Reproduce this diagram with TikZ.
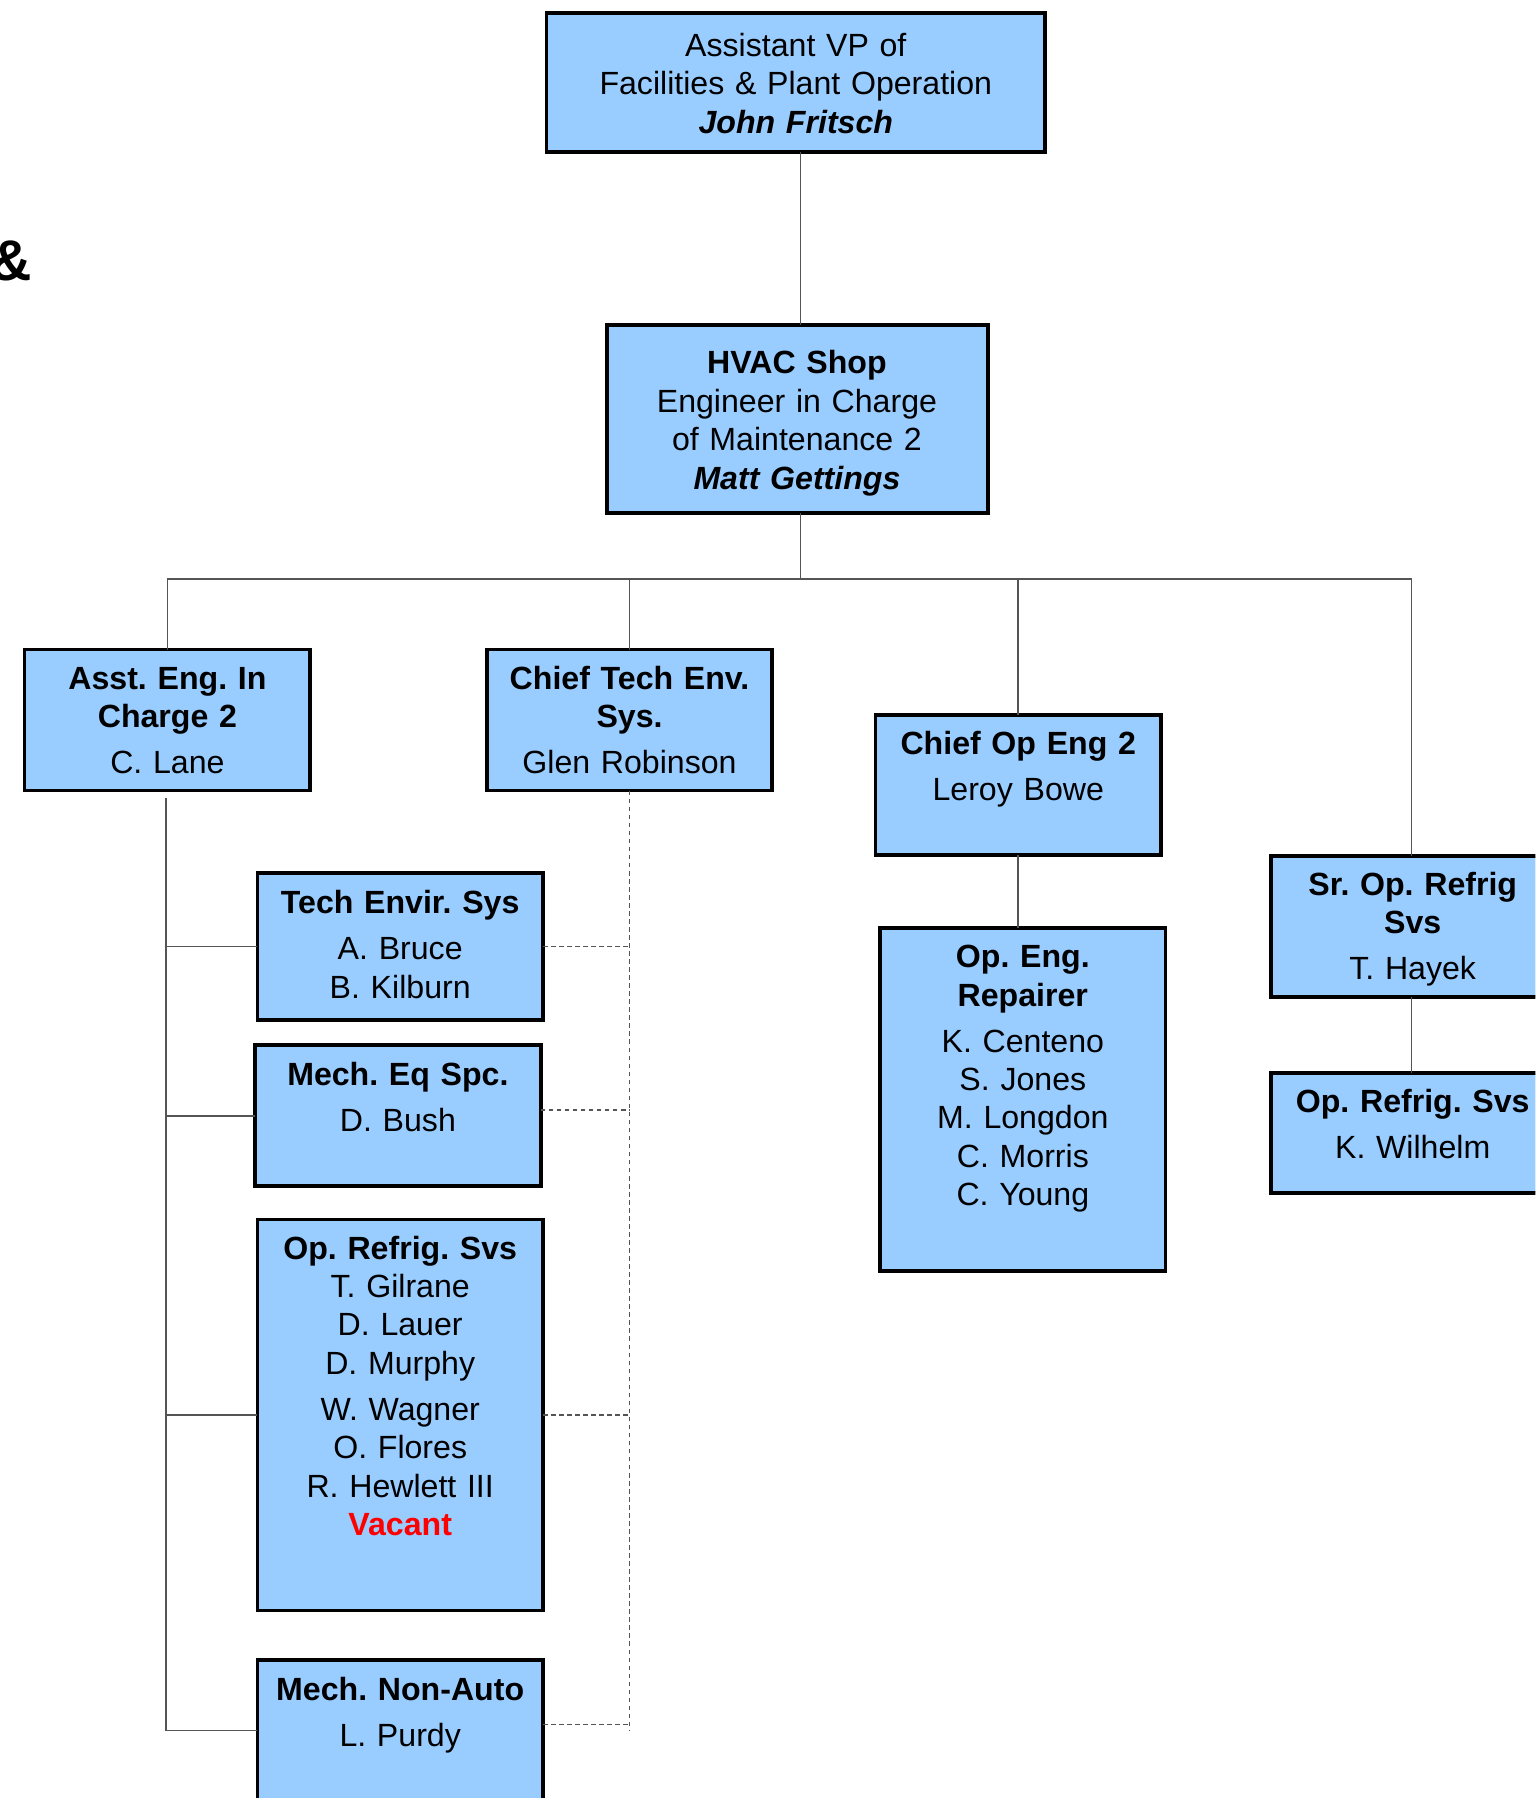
\documentclass[tikz,border=0pt]{standalone}
\usepackage{fontspec}
\setmainfont{Liberation Sans}
\definecolor{boxblue}{HTML}{99CCFF}
\definecolor{linegray}{HTML}{555555}
\tikzset{
  box/.style={draw=black, line width=1.6pt, fill=boxblue, inner sep=0pt, outer sep=0pt},
  conn/.style={draw=linegray, line width=0.7pt},
  dconn/.style={draw=linegray, line width=0.7pt, dash pattern=on 2pt off 1.5pt},
  txt/.style={text width=220pt, align=center, inner sep=0pt, anchor=base, font=\fontsize{14}{16.75}\selectfont},
}
\frenchspacing
\begin{document}
\frenchspacing
\begin{tikzpicture}[x=0.5pt, y=-0.5pt]
\useasboundingbox (0,0) rectangle (1339,1568);
\fill[white] (0,0) rectangle (1339,1568);
\clip (0,0) rectangle (1339,1568);

% helper coordinates
\coordinate (bus) at (698,505);
\coordinate (spineend) at (145,1509);

% boxes
\node[box, minimum width=217.5pt, minimum height=60.5pt] (top) at (694,72) {};
\node[box, minimum width=166pt, minimum height=82pt] (hvac) at (695.5,365.5) {};
\node[box, minimum width=124.5pt, minimum height=61.5pt] (asst) at (146,628) {};
\node[box, minimum width=124.5pt, minimum height=61.5pt] (ctech) at (549,628) {};
\node[box, minimum width=124.5pt, minimum height=61pt] (cop) at (888,684.5) {};
\node[box, minimum width=124.5pt, minimum height=149.5pt] (oper) at (892,959) {};
\node[box, minimum width=123.5pt, minimum height=61.5pt] (srop) at (1232,808) {};
\node[box, minimum width=123.5pt, minimum height=52.5pt] (oprr) at (1232,988) {};
\node[box, minimum width=124.5pt, minimum height=64pt] (tech) at (349,825.5) {};
\node[box, minimum width=124.5pt, minimum height=61.5pt] (mech) at (347,973) {};
\node[box, minimum width=124.5pt, minimum height=170.5pt] (oprl) at (349,1234) {};
\node[box, minimum width=124.5pt, minimum height=61.5pt] (mna) at (349,1509) {};

% texts
\node[txt] (top-t) at (694,49) {Assistant VP of\\Facilities \& Plant Operation\\\textbf{\textit{John Fritsch}}};
\node[txt] (hvac-t) at (695,326) {\textbf{HVAC Shop}\\Engineer in Charge\\of Maintenance 2\\\textbf{\textit{Matt Gettings}}};
\node[txt] (asst-t) at (146,601) {\textbf{Asst. Eng. In}\\\textbf{Charge 2}\\[3.25pt]C. Lane};
\node[txt] (ctech-t) at (549,601) {\textbf{Chief Tech Env.}\\\textbf{Sys.}\\[3.25pt]Glen Robinson};
\node[txt] (cop-t) at (888,658) {\textbf{Chief Op Eng 2}\\[3.25pt]Leroy Bowe};
\node[txt] (oper-t) at (892,844) {\textbf{Op. Eng.}\\\textbf{Repairer}\\[3.25pt]K. Centeno\\S. Jones\\M. Longdon\\C. Morris\\C. Young};
\node[txt] (srop-t) at (1232,781) {\textbf{Sr. Op. Refrig}\\\textbf{Svs}\\[3.25pt]T. Hayek};
\node[txt] (oprr-t) at (1232,970) {\textbf{Op. Refrig. Svs}\\[3.25pt]K. Wilhelm};
\node[txt] (tech-t) at (349,797) {\textbf{Tech Envir. Sys}\\[3.25pt]A. Bruce\\B. Kilburn};
\node[txt] (mech-t) at (347,947) {\textbf{Mech. Eq Spc.}\\[3.25pt]D. Bush};
\node[txt] (oprl-t) at (349,1098) {\textbf{Op. Refrig. Svs}\\T. Gilrane\\D. Lauer\\D. Murphy\\[3.25pt]W. Wagner\\O. Flores\\R. Hewlett III\\\textcolor{red}{\textbf{Vacant}}};
\node[txt] (mna-t) at (349,1483) {\textbf{Mech. Non-Auto}\\[3.25pt]L. Purdy};

% partial ampersand at left edge
\node[anchor=east, inner sep=0pt, font=\fontsize{25}{30}\selectfont\bfseries] (amp) at (28,228) {\&};

% solid connectors
\draw[conn] (top.south -| bus) -- (hvac.north -| bus);
\draw[conn] (hvac.south -| bus) -- (bus);
\draw[conn] (asst.north) -- (asst.north |- bus) -- (bus -| 1231,0) -- (srop.north -| 1231,0);
\draw[conn] (ctech.north) -- (ctech.north |- bus);
\draw[conn] (cop.north) -- (cop.north |- bus);
\draw[conn] (cop.south) -- (cop.south |- oper.north);
\draw[conn] (srop.south -| 1231,0) -- (oprr.north -| 1231,0);

% left spine
\draw[conn] ([yshift=-3pt]asst.south -| spineend) -- (spineend) -- (mna.west);
\draw[conn] (tech.west -| spineend) -- (tech.west);
\draw[conn] (mech.west -| spineend) -- (mech.west);
\draw[conn] (oprl.west -| spineend) -- (oprl.west);

% dashed spine
\draw[dconn] (ctech.south) -- (ctech.south |- spineend);
\draw[dconn] (tech.east) -- (tech.east -| ctech.south);
\draw[dconn] ([yshift=2.5pt]mech.east) -- ([yshift=2.5pt]mech.east -| ctech.south);
\draw[dconn] (oprl.east) -- (oprl.east -| ctech.south);
\draw[dconn] ([yshift=2.5pt]mna.east) -- ([yshift=2.5pt]mna.east -| ctech.south);
\end{tikzpicture}
\end{document}
